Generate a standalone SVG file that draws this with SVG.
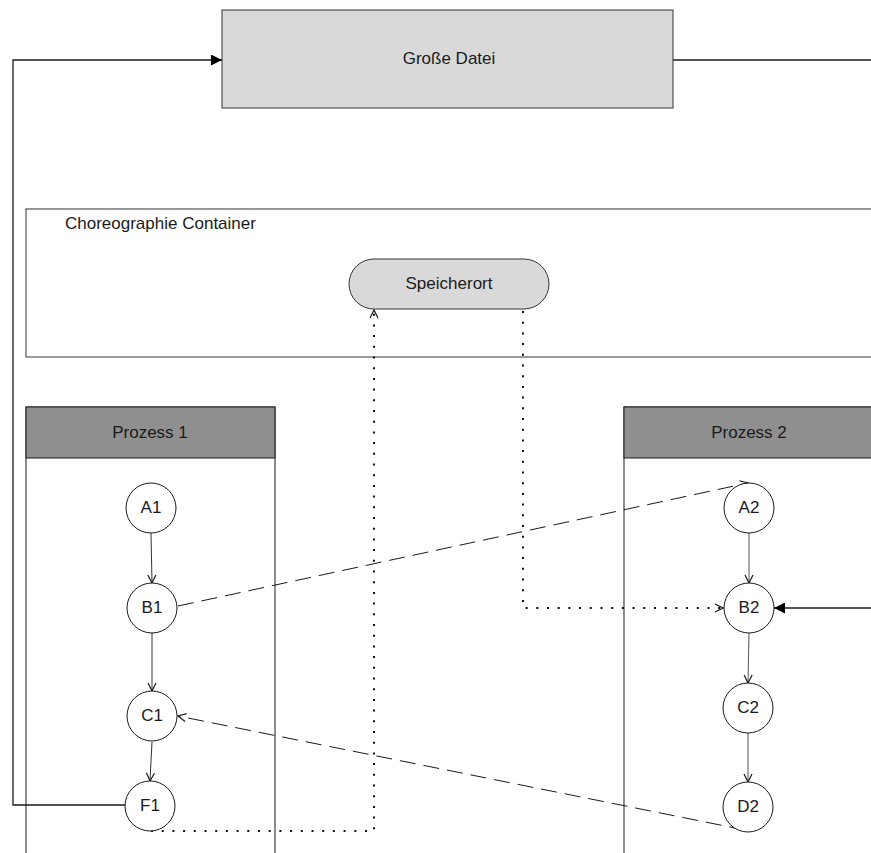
<svg xmlns="http://www.w3.org/2000/svg" width="871" height="853" viewBox="0 0 871 853">
  <style>
    text { font-family: "Liberation Sans", Arial, sans-serif; font-size: 17px; fill: #1a1a1a; }
    .c { text-anchor: middle; dominant-baseline: central; }
    .node { fill: #ffffff; stroke: #1a1a1a; stroke-width: 1; }
    .box { fill: #d9d9d9; stroke: #333333; stroke-width: 1; }
    .lane { fill: #ffffff; stroke: #1a1a1a; stroke-width: 1; }
    .head { fill: #8f8f8f; stroke: #1a1a1a; stroke-width: 1; }
    .flow { fill: none; stroke: #333333; stroke-width: 1; }
    .flow2 { fill: none; stroke: #555555; stroke-width: 1; }
    .msg { fill: none; stroke: #1a1a1a; stroke-width: 1; stroke-dasharray: 16 8; }
    .dot { fill: none; stroke: #111111; stroke-width: 2; stroke-dasharray: 2 8.7; }
    .solid { fill: none; stroke: #1a1a1a; stroke-width: 1.3; }
  </style>
  <defs>
    <marker id="open" viewBox="0 0 10 10" refX="9" refY="5" markerWidth="10" markerHeight="10" markerUnits="userSpaceOnUse" orient="auto">
      <path d="M1,1 L9,5 L1,9" fill="none" stroke="#1a1a1a" stroke-width="1.2"/>
    </marker>
    <marker id="filled" viewBox="0 0 10 10" refX="10" refY="5" markerWidth="11" markerHeight="11" markerUnits="userSpaceOnUse" orient="auto">
      <path d="M0,0 L10,5 L0,10 Z" fill="#000000"/>
    </marker>
  </defs>

  <!-- Große Datei -->
  <g id="grosse-datei">
    <rect class="box" x="222" y="10" width="451" height="98"/>
    <text class="c" x="449" y="58">Große Datei</text>
  </g>

  <!-- Choreographie Container -->
  <g id="container">
    <rect x="26" y="209" width="860" height="148" fill="#ffffff" stroke="#333333" stroke-width="1"/>
    <text x="65" y="229">Choreographie Container</text>
  </g>

  <g id="speicherort">
    <rect class="box" x="349" y="259" width="200" height="50" rx="25" ry="25"/>
    <text class="c" x="449" y="283">Speicherort</text>
  </g>

  <!-- Lanes -->
  <g id="prozess1">
    <rect class="lane" x="26" y="407" width="249" height="460"/>
    <rect class="head" x="26" y="407" width="249" height="51"/>
    <text class="c" x="150" y="432">Prozess 1</text>
  </g>
  <g id="prozess2">
    <rect class="lane" x="624" y="407" width="260" height="460" stroke="#555555"/>
    <rect class="head" x="624" y="407" width="260" height="51"/>
    <text class="c" x="749" y="432">Prozess 2</text>
  </g>

  <!-- Connectors -->
  <g id="connectors">
    <path class="flow" d="M151,533 L152,583" marker-end="url(#open)"/>
    <path class="flow" d="M152,633 L152,691" marker-end="url(#open)"/>
    <path class="flow" d="M152,742 L150,781" marker-end="url(#open)"/>
    <path class="flow2" d="M749,533 L749,583" marker-end="url(#open)"/>
    <path class="flow2" d="M749,633 L748,683" marker-end="url(#open)"/>
    <path class="flow2" d="M748,733 L748,782" marker-end="url(#open)"/>

    <path class="msg" d="M178,606 L748,483" marker-end="url(#open)"/>
    <path class="msg" d="M745,830 L178,716" marker-end="url(#open)"/>

    <path class="dot" d="M523,311 L523,608 L723,608" marker-end="url(#open)"/>
    <path class="dot" d="M151,831 L374,831 L374,310" marker-end="url(#open)"/>

    <path class="solid" d="M871,608 L774,608" marker-end="url(#filled)"/>
    <path class="solid" d="M125,805 L13,805 L13,60 L222,60" marker-end="url(#filled)"/>
    <path class="solid" d="M673,60 L871,60"/>
  </g>

  <!-- Nodes -->
  <g id="A1"><circle class="node" cx="151" cy="508" r="25"/><text class="c" x="151" y="507">A1</text></g>
  <g id="B1"><circle class="node" cx="152" cy="608" r="25"/><text class="c" x="152" y="607">B1</text></g>
  <g id="C1"><circle class="node" cx="152" cy="716" r="25"/><text class="c" x="152" y="715">C1</text></g>
  <g id="F1"><circle class="node" cx="150" cy="806" r="25"/><text class="c" x="150" y="805">F1</text></g>
  <g id="A2"><circle class="node" cx="749" cy="508" r="25"/><text class="c" x="749" y="507">A2</text></g>
  <g id="B2"><circle class="node" cx="749" cy="608" r="25"/><text class="c" x="749" y="607">B2</text></g>
  <g id="C2"><circle class="node" cx="748" cy="708" r="25"/><text class="c" x="748" y="707">C2</text></g>
  <g id="D2"><circle class="node" cx="748" cy="807" r="25"/><text class="c" x="748" y="806">D2</text></g>
</svg>
